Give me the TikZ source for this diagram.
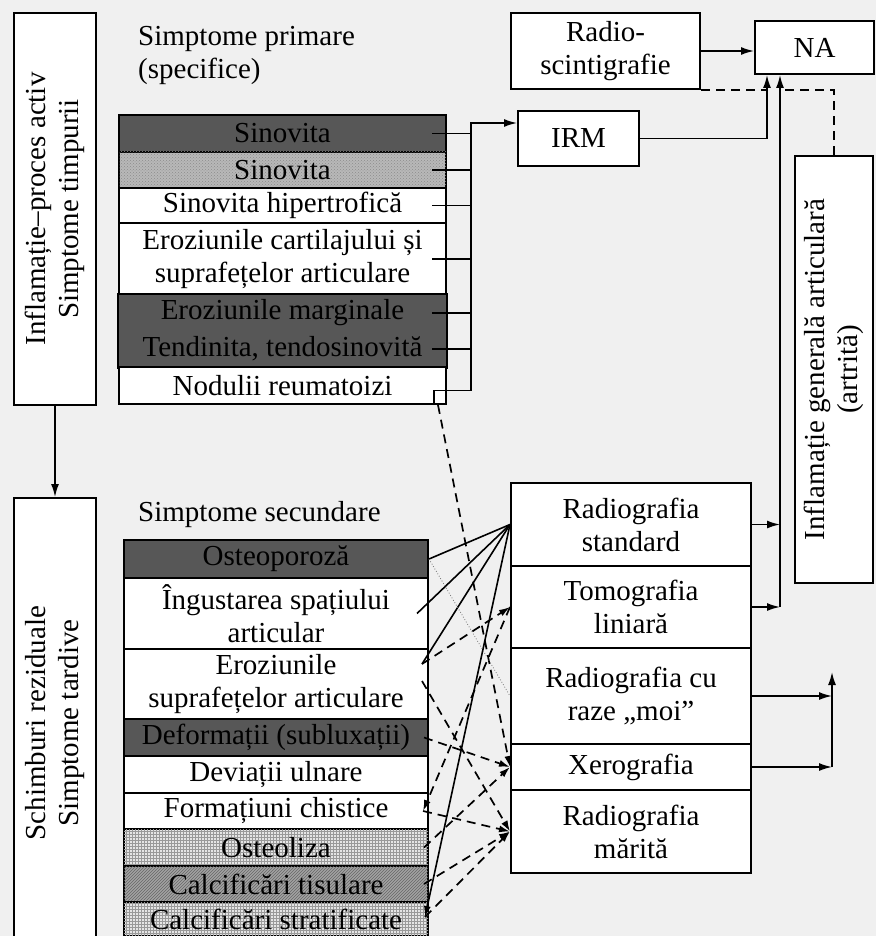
\documentclass[tikz,border=0pt]{standalone}
\usepackage{fontspec}
\setmainfont{Liberation Serif}
\usetikzlibrary{arrows.meta,patterns}
\newcommand{\fs}{\fontsize{29}{33}\selectfont}
\begin{document}
\begin{tikzpicture}[x=1pt,y=-1pt,
  cell/.style={draw, line width=2pt, fill=white, anchor=north west, inner sep=0pt, align=center, font=\fs},
  pw/.style={minimum width=327pt},
  sw/.style={minimum width=304pt},
  rw/.style={minimum width=240pt},
  dark/.style={fill=black!66},
  dots/.style={fill=black!28, postaction={pattern=crosshatch dots, pattern color=black!45}},
  gridfill/.style={fill=black!10, postaction={pattern=grid, pattern color=black!40}},
  hatch/.style={fill=black!36, postaction={pattern=north east lines, pattern color=black!60}},
  lbl/.style={font=\fs, align=center, inner sep=0pt},
  arr/.style={-{Latex[length=13pt,width=8pt]}},
  darr/.style={-{Latex[length=11pt,width=7pt]}},
  con/.style={line width=1.6pt},
  dsh/.style={line width=1.7pt, dash pattern=on 9pt off 6pt},
]
\fill[black!6] (0,0) rectangle (876,936);
\useasboundingbox (0,0) rectangle (876,936);

% left boxes
\node[cell, minimum width=82pt, minimum height=392pt] (L1) at (13,12) {};
\node[lbl, rotate=90] (L1t) at (L1.center) {Inflamație–proces activ\\Simptome timpurii};
\node[cell, minimum width=82pt, minimum height=450pt] (L2) at (13,497) {};
\node[lbl, rotate=90] (L2t) at (L2.center) {Schimburi reziduale\\Simptome tardive};
\draw[con,arr] (L1.south) -- (L2.north);

% titles
\node[font=\fs, anchor=north west, inner sep=0pt, align=left] (T1) at (138,26) {Simptome primare\\(specifice)};
\node[font=\fs, anchor=north west, inner sep=0pt] (T2) at (138,501) {Simptome secundare};

% primary table
\node[cell,pw,dark, minimum height=37pt] (p1) at (118,114) {Sinovita};
\node[cell,pw,dots, minimum height=36pt] (p2) at (118,151) {Sinovita};
\node[cell,pw, minimum height=35pt] (p3) at (118,187) {Sinovita hipertrofică};
\node[cell,pw, minimum height=72pt] (p4) at (118,222) {Eroziunile cartilajului și\\suprafețelor articulare};
\node[cell,pw,dark,draw=none, minimum height=36pt] (p5a) at (118,294) {Eroziunile marginale};
\node[cell,pw,dark,draw=none, minimum height=36pt] (p5b) at (118,330) {Tendinita, tendosinovită};
\draw[line width=2pt] (p5a.north west) rectangle (p5b.south east);
\node[cell,pw, minimum height=37pt] (p6) at (118,366) {Nodulii reumatoizi};

% secondary table
\node[cell,sw,dark, minimum height=38pt] (s1) at (123,539) {Osteoporoză};
\node[cell,sw, minimum height=71pt] (s2) at (123,577) {Îngustarea spațiului\\articular};
\node[cell,sw, minimum height=70pt] (s3) at (123,648) {Eroziunile\\suprafețelor articulare};
\node[cell,sw,dark, minimum height=37pt] (s4) at (123,718) {Deformații (subluxații)};
\node[cell,sw, minimum height=37pt] (s5) at (123,755) {Deviații ulnare};
\node[cell,sw, minimum height=36pt] (s6) at (123,792) {Formațiuni chistice};
\node[cell,sw,gridfill, minimum height=37pt] (s7) at (123,828) {Osteoliza};
\node[cell,sw,hatch, minimum height=36pt] (s8) at (123,865) {Calcificări tisulare};
\node[cell,sw,gridfill, minimum height=34pt] (s9) at (123,901) {Calcificări stratificate};

% top right
\node[cell, minimum width=189pt, minimum height=76pt] (Radio) at (510,12) {Radio-\\scintigrafie};
\node[cell, minimum width=119pt, minimum height=53pt] (NA) at (754,20) {NA};
\node[cell, minimum width=121pt, minimum height=55pt] (IRM) at (517,110) {IRM};
\node[cell, minimum width=78pt, minimum height=427pt] (Infl) at (794,155) {};
\node[lbl, rotate=90] (Inflt) at (Infl.center) {Inflamație generală articulară\\(artrită)};

% imaging methods
\node[cell,rw, minimum height=83pt] (r1) at (510,482) {Radiografia\\standard};
\node[cell,rw, minimum height=82pt] (r2) at (510,565) {Tomografia\\liniară};
\node[cell,rw, minimum height=96pt] (r3) at (510,647) {Radiografia cu\\raze „moi”};
\node[cell,rw, minimum height=46pt] (r4) at (510,743) {Xerografia};
\node[cell,rw, minimum height=83pt] (r5) at (510,789) {Radiografia\\mărită};

% coordinates
\coordinate (bus) at (471,123);
\coordinate (na1) at ([xshift=13pt]NA.south west);
\coordinate (na2) at ([xshift=26pt]NA.south west);
\coordinate (up) at (832,672);

% primary bus
\foreach \r in {p1,p2,p3,p4,p5a,p5b}
  \draw[con] ([xshift=-15pt]\r.east) -- (\r.east -| bus);
\draw[con,arr] ([xshift=-13pt]p6.south east) |- ([yshift=-5pt]p6.east -| bus) -- (bus) -- (bus -| IRM.west);

% to NA
\draw[con,arr] (Radio.east) -- (Radio.east -| NA.west);
\draw[con,arr] (IRM.east) -| (na1);
\draw[dsh] (Radio.south east) -- (Radio.south east -| na1);
\draw[dsh] (Infl.north) |- (Radio.south east -| na2);
\draw[con,arr] (r2.east -| na2) -- (na2);
\draw[con,arr] (r1.east) -- (r1.east -| na2);
\draw[con,arr] (r2.east) -- (r2.east -| na2);

% lower right
\draw[con,arr] (r3.east) -- (r3.east -| up);
\draw[con,arr] (r4.east) -- (r4.east -| up);
\draw[con,arr] (r4.east -| up) -- (up);

% solid fan
\draw[con] (r1.west) -- (s1.east);
\draw[con] (r1.west) -- ([xshift=-12pt]s2.east);
\draw[con] (r1.west) -- ([xshift=-7pt,yshift=20pt]s3.east);
\draw[con,darr] (r1.west) -- ([xshift=-4pt,yshift=2pt]s9.east);

% dashed
\draw[dsh,darr] ([xshift=-9pt]p6.south east) -- (r4.west);
\draw[dsh,darr] ([xshift=-7pt,yshift=20pt]s3.east) -- (r2.west);
\draw[dsh,darr] (r2.west) -- ([xshift=-6pt]s6.east);
\draw[dsh,darr] ([xshift=-5pt]s4.east) -- (r4.west);
\draw[dsh,darr] ([xshift=-5pt]s7.east) -- (r4.west);
\draw[dsh,darr] ([xshift=-7pt,yshift=3pt]s3.east) -- (r5.west);
\draw[dsh,darr] ([xshift=-6pt]s6.east) -- (r5.west);
\draw[dsh,darr] ([xshift=-5pt]s8.east) -- (r5.west);
\draw[dsh,darr] ([xshift=-4pt,yshift=2pt]s9.east) -- (r5.west);
\draw[line width=0.8pt, dotted, black!55] (s1.east) -- (r3.west);
\end{tikzpicture}
\end{document}
